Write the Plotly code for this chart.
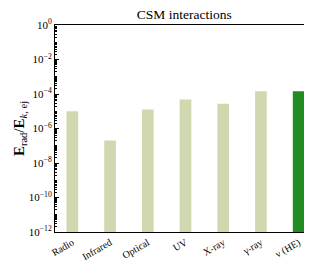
import plotly.graph_objects as go

categories = ["Radio", "Infrared", "Optical", "UV", "X-ray", "γ-ray", "ν (HE)"]
values = [1.0e-5, 2.0e-7, 1.25e-5, 4.8e-5, 2.7e-5, 1.45e-4, 1.45e-4]
colors = ["#d0d8b0"] * 6 + ["#228b22"]
ytick_vals = [1e0, 1e-2, 1e-4, 1e-6, 1e-8, 1e-10, 1e-12]
ytick_text = ["10<sup>0</sup>", "10<sup>−2</sup>", "10<sup>−4</sup>", "10<sup>−6</sup>",
              "10<sup>−8</sup>", "10<sup>−10</sup>", "10<sup>−12</sup>"]

font = "Liberation Serif, serif"

fig = go.Figure(go.Bar(x=categories, y=values, marker_color=colors,
                       marker_line_width=0, width=0.31))

fig.update_layout(
    width=312, height=262,
    margin=dict(l=47, r=4, t=17, b=38),
    plot_bgcolor="white", paper_bgcolor="white",
    showlegend=False,
    font=dict(family=font, color="black", size=11),
    title=dict(text="CSM interactions", x=0.565, xanchor="center", y=0.995, yanchor="top",
               font=dict(family=font, size=13.5, color="black")),
)
fig.update_xaxes(
    range=[-0.46, 6.46], showline=True, linecolor="black", linewidth=1, mirror=True,
    ticks="", tickangle=-30, tickfont=dict(size=10, family=font), ticklabelstandoff=0,
)
fig.update_yaxes(
    type="log", range=[-12, 0], showline=True, linecolor="black", linewidth=1, mirror="allticks",
    ticks="inside", ticklen=4, tickwidth=1, tickcolor="black",
    tickvals=ytick_vals, ticktext=ytick_text, showgrid=False,
    tickfont=dict(size=11, family=font),
    minor=dict(ticks="inside", ticklen=2, tickwidth=0.8, tickcolor="black", dtick="D1", showgrid=False),
    title=dict(text="<b>E</b><sub>rad</sub>/<b>E</b><sub><i>k</i>, ej</sub>",
               font=dict(size=15, family=font), standoff=0),
)
fig.write_html("out.html")
